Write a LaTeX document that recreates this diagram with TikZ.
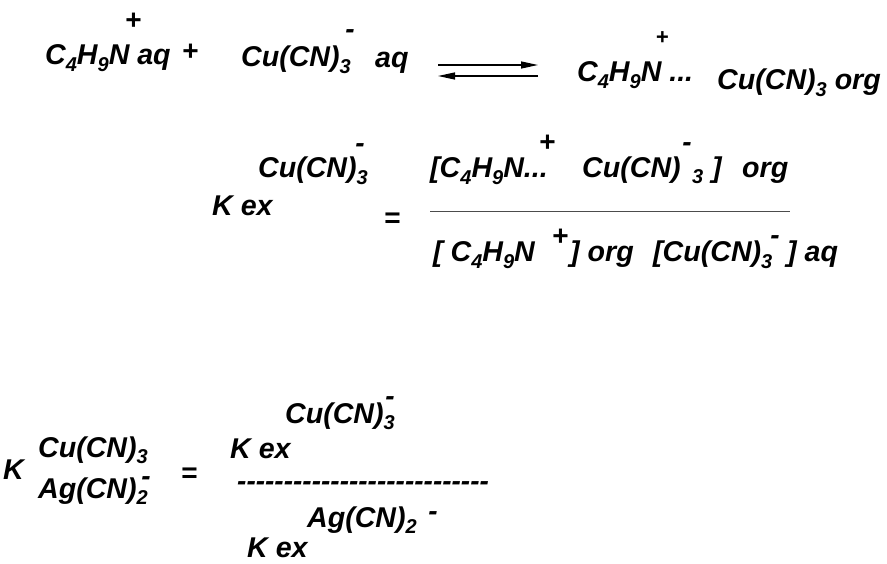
\documentclass[tikz,border=0pt]{standalone}
\usepackage{fontspec}
\setmainfont{Liberation Sans}
\newfontfamily\nolig{Liberation Sans}[Ligatures=TeXOff]
\usetikzlibrary{arrows.meta}
\newcommand\lo[1]{\raisebox{-6.5pt}{\fontsize{20}{20}\selectfont #1}}
\tikzset{
  txt/.style={inner sep=0pt, anchor=base west, font=\fontsize{28.6}{30}\selectfont\bfseries\itshape},
  chg/.style={inner sep=0pt, anchor=base, font=\fontsize{28}{30}\selectfont\bfseries\itshape},
  chgs/.style={inner sep=0pt, anchor=base, font=\fontsize{22}{24}\selectfont\bfseries\itshape},
  eqarrow/.style={line width=1.3pt, -{Triangle[length=17pt,width=7pt]}},
  fracline/.style={line width=1pt, draw=black!70}
}
\begin{document}
\begin{tikzpicture}[x=1pt,y=-1pt]
\useasboundingbox (0,0) rectangle (887,564);
% ---- top reaction ----
\node[chg] (p1) at (133,30) {+};
\node[txt] (r1) at (45,65) {C\lo{4}H\lo{9}N aq};
\node[chg] (p2) at (190,61) {+};
\node[chg] (m1) at (350,39) {-};
\node[txt] (r2) at (241,67) {Cu(CN)\lo{3}};
\node[txt] (r3) at (375,68) {aq};
\coordinate (a1s) at (438,65);
\coordinate (a1e) at (538,65);
\coordinate (a2s) at (538,76);
\coordinate (a2e) at (438,76);
\draw[eqarrow] (a1s) -- (a1e);
\draw[eqarrow] (a2s) -- (a2e);
\node[chgs] (p3) at (662,45) {+};
\node[txt] (q1) at (577,82) {C\lo{4}H\lo{9}N ...};
\node[txt] (q2) at (717,90) {Cu(CN)\lo{3} org};
% ---- Kex definition ----
\node[chg] (m2) at (360,153) {-};
\node[txt] (k1) at (258,178) {Cu(CN)\lo{3}};
\node[txt] (k2) at (212,216) {K ex};
\node[chg] (eq1) at (392,228) {=};
\node[txt] (n1) at (430,178) {[C\lo{4}H\lo{9}N...};
\node[chg] (p4) at (547,152) {+};
\node[txt] (n2) at (582,178) {Cu(CN)};
\node[chg] (m3) at (687,152) {-};
\node[txt] (n3) at (692,177) {\lo{3}};
\node[txt] (n4) at (712,178) {]};
\node[txt] (n5) at (742,178) {org};
\coordinate (f1) at (430,212);
\coordinate (f2) at (790,212);
\draw[fracline] (f1) -- (f2);
\node[txt] (d1) at (433,262) {[ C\lo{4}H\lo{9}N};
\node[chg] (p5) at (560,246) {+};
\node[txt] (d2) at (570,262) {] org};
\node[txt] (d3) at (653,262) {[Cu(CN)\lo{3}};
\node[chg] (m4) at (775,245) {-};
\node[txt] (d4) at (787,262) {] aq};
% ---- bottom ratio ----
\node[txt] (b1) at (3,479) {K};
\node[txt] (b2) at (38,457) {Cu(CN)\lo{3}};
\node[txt] (b3) at (38,498) {Ag(CN)\lo{2}};
\node[chg] (m5) at (146,485) {-};
\node[chg] (eq2) at (189,482) {=};
\node[txt] (c1) at (285,423) {Cu(CN)\lo{3}};
\node[chg] (m6) at (390,405) {-};
\node[txt] (c2) at (230,458) {K ex};
\node[txt, font=\fontsize{28}{30}\selectfont\bfseries\itshape\nolig] (c3) at (237,490) {---------------------------};
\node[txt] (c4) at (307,527) {Ag(CN)\lo{2}};
\node[chg] (m7) at (433,520) {-};
\node[txt] (c5) at (247,557) {K ex};
\end{tikzpicture}
\end{document}
